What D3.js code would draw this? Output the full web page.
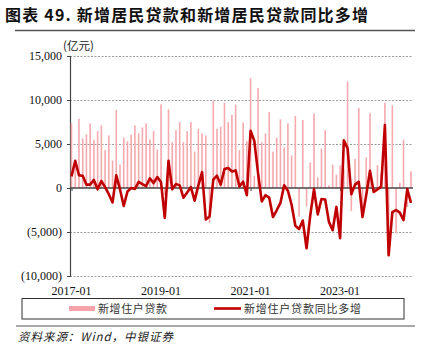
<!DOCTYPE html>
<html><head><meta charset="utf-8">
<script src="https://cdn.jsdelivr.net/npm/d3@7"></script>
<style>
body{margin:0;background:#fff;}
svg{display:block;}
</style></head>
<body><svg id="c" width="426" height="356"></svg>
<script>
// Monthly categories 2017-01 .. 2024-08
const startMonth = "2017-01", endMonth = "2024-08";
const xTickLabels = ["2017-01","2019-01","2021-01","2023-01"];
const yTickValues = [15000,10000,5000,0,-5000,-10000];
const yTickLabels = ["15,000","10,000","5,000","0","(5,000)","(10,000)"];

// 新增住户贷款 (亿元)
const loans = [
  7340,2770,7870,5630,6090,7340,5480,6460,7110,4290,5970,3120,
  8860,2660,5740,5320,6050,7110,6230,6880,7340,5510,6460,4370,
  9510,-770,8940,5210,6580,7490,5210,6460,7490,4140,6730,6200,
  5970,-4000,9890,6730,6960,9700,7490,8330,9480,4290,7420,5320,
  12480,1400,11340,5210,6200,8630,4140,5740,7800,4600,7340,3690,
  8180,-3240,7720,-2100,2920,8480,1210,4490,6580,300,2660,1520,
  2550,2200,12100,-2600,3300,9100,-2050,3450,8500,-380,2600,1650,
  9700,-5950,9400,-5150,600,5500,-2150,1900
];
// 新增住户贷款同比多增 (亿元)
const yoy = [
  1320,3100,1450,1380,380,380,920,-150,790,100,-700,-1650,
  1450,-150,-2050,-400,0,-100,700,450,200,1100,550,1250,
  650,-3400,3100,-150,450,300,-1100,-500,100,-1450,300,1800,
  -3580,-3240,950,1400,380,2150,2280,1880,2000,170,720,-820,
  6500,5350,1700,-1520,-820,-1100,-3300,-2530,-1700,300,-300,-1900,
  -4300,-4650,-3700,-6850,-3100,-130,-3000,-1250,-1300,-3850,-4800,-2150,
  -5700,5430,4500,-700,380,700,-3300,-800,1950,-450,-150,150,
  7150,-7650,-2750,-2500,-2800,-3650,-120,-1700
];

const parse = d3.timeParse("%Y-%m"), fmt = d3.timeFormat("%Y-%m");
const months = d3.timeMonth.range(parse(startMonth), d3.timeMonth.offset(parse(endMonth),1)).map(fmt);

const svg = d3.select("#c");
const serif = "'Liberation Serif','Times New Roman',serif";
const cjk = "'Noto Sans CJK SC','Noto Sans CJK JP',sans-serif";

// Title
svg.append("text").attr("x",5).attr("y",21)
  .attr("font-family",cjk).attr("font-weight","bold").attr("font-size",16)
  .attr("textLength",363).attr("lengthAdjust","spacing").attr("fill","#111")
  .text("图表 49. 新增居民贷款和新增居民贷款同比多增");
svg.append("line").attr("x1",15).attr("x2",415).attr("y1",30.5).attr("y2",30.5)
  .attr("stroke","#555").attr("stroke-width",1.5);

const x = d3.scalePoint().domain(months).range([71.5, 411]);
const y = d3.scaleLinear().domain([-10000,15000]).range([276,56]);
const left = 70, right = 413;

// unit label
svg.append("text").attr("x",63).attr("y",50).attr("font-family",cjk).attr("font-size",11.5)
  .attr("fill","#222").text("(亿元)");

// grid
svg.append("g").selectAll("line").data(yTickValues.filter(v=>v!==0)).join("line")
  .attr("x1",left).attr("x2",right).attr("y1",d=>Math.round(y(d))+0.5).attr("y2",d=>Math.round(y(d))+0.5)
  .attr("stroke","#9a9a9a").attr("stroke-width",1).attr("stroke-dasharray","2,1.5");

// y axis
const yAxis = d3.axisLeft(y).tickValues(yTickValues).tickSize(3)
  .tickFormat((d,i)=>yTickLabels[i]);
const gy = svg.append("g").attr("transform",`translate(${left},0)`).call(yAxis);
gy.select(".domain").attr("stroke","#444").attr("stroke-width",1.2);
gy.selectAll(".tick line").attr("stroke","#444");
gy.selectAll(".tick text").attr("font-family",serif).attr("font-size",12).attr("fill","#111").attr("x",-8);

// bars
svg.append("g").selectAll("rect").data(loans).join("rect")
  .attr("x",(d,i)=>x(months[i])-0.8).attr("width",1.6)
  .attr("y",d=>y(Math.max(0,d))).attr("height",d=>Math.abs(y(d)-y(0)))
  .attr("fill","#F6A9AF");

// zero line with ticks
svg.append("line").attr("x1",left).attr("x2",right).attr("y1",y(0)).attr("y2",y(0))
  .attr("stroke","#444").attr("stroke-width",1.3);
const xAxis = d3.axisBottom(x).tickValues(xTickLabels).tickSize(3).tickFormat("");
const gx = svg.append("g").attr("transform",`translate(0,${y(0)})`).call(xAxis);
gx.select(".domain").remove();
gx.selectAll(".tick line").attr("stroke","#444");

// x labels at bottom
svg.append("g").selectAll("text").data(xTickLabels).join("text")
  .attr("x",d=>x(d)).attr("y",295).attr("text-anchor","middle")
  .attr("font-family",serif).attr("font-size",12).attr("fill","#111").text(d=>d);

// line
const line = d3.line().x((d,i)=>x(months[i])).y(d=>y(d));
svg.append("path").datum(yoy).attr("d",line).attr("fill","none")
  .attr("stroke","#C00000").attr("stroke-width",2.6).attr("stroke-linejoin","round");

// legend
svg.append("rect").attr("x",22).attr("y",298.5).attr("width",382).attr("height",20.5)
  .attr("fill","none").attr("stroke","#333").attr("stroke-width",1);
svg.append("rect").attr("x",69).attr("y",306).attr("width",26).attr("height",5).attr("fill","#F6A4AA");
svg.append("text").attr("x",98).attr("y",313).attr("font-family",cjk).attr("font-size",11)
  .attr("textLength",69).attr("lengthAdjust","spacing").attr("fill","#333").text("新增住户贷款");
svg.append("line").attr("x1",214).attr("x2",241).attr("y1",308.5).attr("y2",308.5)
  .attr("stroke","#C00000").attr("stroke-width",2.6);
svg.append("text").attr("x",244).attr("y",313).attr("font-family",cjk).attr("font-size",11)
  .attr("textLength",117).attr("lengthAdjust","spacing").attr("fill","#333").text("新增住户贷款同比多增");

// bottom rule & source
svg.append("line").attr("x1",16).attr("x2",415).attr("y1",326).attr("y2",326)
  .attr("stroke","#555").attr("stroke-width",1.2);
svg.append("text").attr("x",18).attr("y",341).attr("font-family",cjk).attr("font-size",11.5)
  .attr("font-style","italic").attr("textLength",155).attr("lengthAdjust","spacing")
  .attr("fill","#222").text("资料来源：Wind，中银证券");
</script></body></html>
